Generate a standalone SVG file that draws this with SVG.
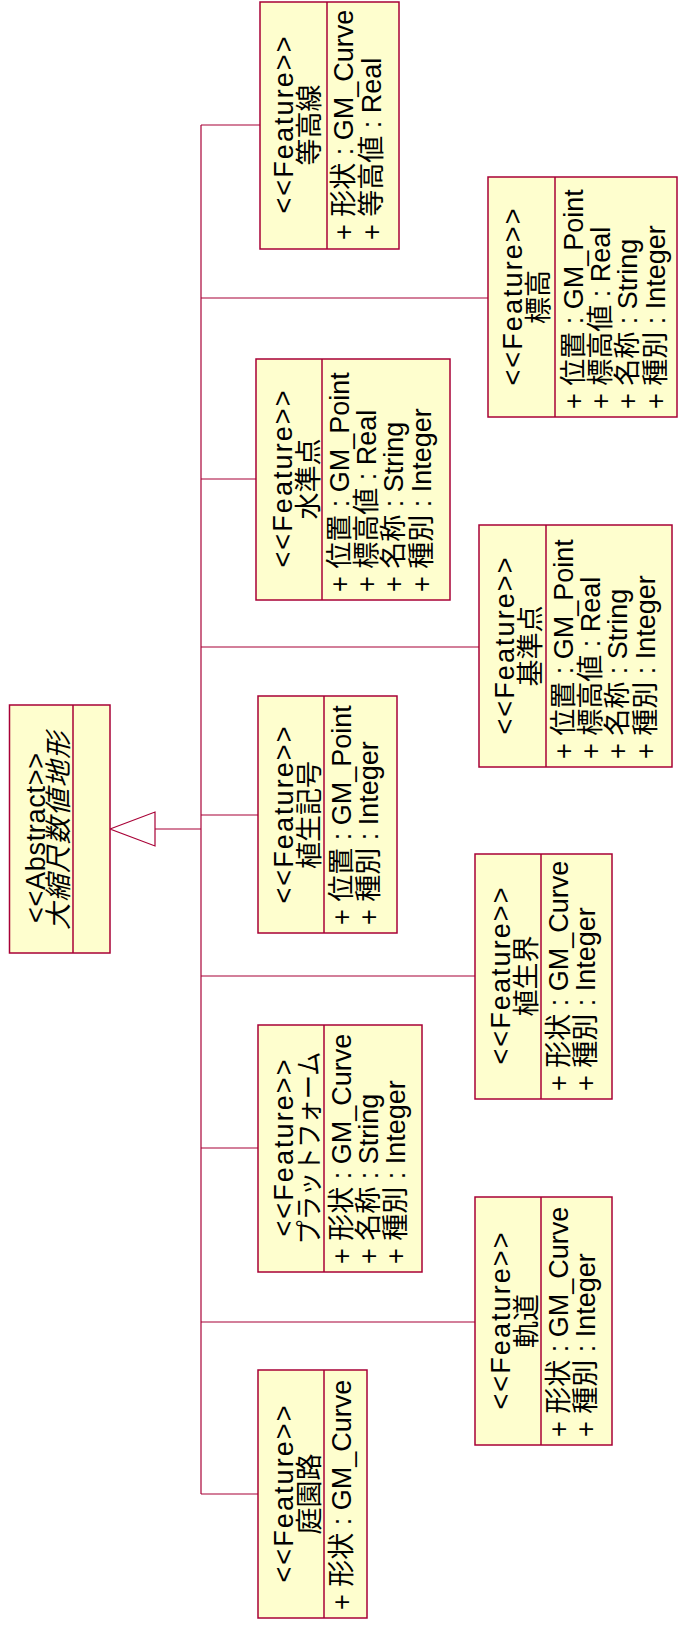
<svg xmlns="http://www.w3.org/2000/svg" width="678" height="1630" viewBox="0 0 678 1630">
<style>
.box{fill:#FEFECE;stroke:#A80036;stroke-width:1.5}
.div{stroke:#A80036;stroke-width:1.5}
.con{stroke:#A80036;stroke-width:1.2;fill:none}
text{font-family:"Liberation Sans","Noto Sans CJK JP",sans-serif;font-size:27px;fill:#000}
.c{text-anchor:middle}
.it{font-style:italic}
</style>
<rect width="678" height="1630" fill="#fff"/>
<g id="connectors">
<line class="con" x1="201" y1="125" x2="201" y2="1494"/>
<line class="con" x1="201" y1="125" x2="260" y2="125"/>
<line class="con" x1="201" y1="298" x2="488" y2="298"/>
<line class="con" x1="201" y1="479" x2="256" y2="479"/>
<line class="con" x1="201" y1="647" x2="479" y2="647"/>
<line class="con" x1="201" y1="815" x2="258" y2="815"/>
<line class="con" x1="201" y1="976" x2="475" y2="976"/>
<line class="con" x1="201" y1="1148" x2="258" y2="1148"/>
<line class="con" x1="201" y1="1322" x2="475" y2="1322"/>
<line class="con" x1="201" y1="1494" x2="258" y2="1494"/>
<line class="con" x1="155" y1="829" x2="201" y2="829"/>
<polygon class="con" points="110,829 155,812 155,846" style="fill:#fff"/>
</g>
<g id="abstract">
<rect class="box" x="9.5" y="705" width="100.5" height="248"/>
<line class="div" x1="73" y1="705" x2="73" y2="953"/>
<text class="c" transform="translate(45,838) rotate(-90)" textLength="170" lengthAdjust="spacing">&lt;&lt;Abstract&gt;&gt;</text>
<text class="c it" transform="translate(68,831) rotate(-90)" textLength="198" lengthAdjust="spacing">大縮尺数値地形</text>
</g>
<g id="toukousen">
<rect class="box" x="260" y="2" width="139" height="247"/>
<line class="div" x1="327" y1="2" x2="327" y2="249"/>
<text class="c" transform="translate(293,125) rotate(-90)" textLength="177" lengthAdjust="spacing">&lt;&lt;Feature&gt;&gt;</text>
<text class="c" transform="translate(319,125) rotate(-90)">等高線</text>
<text transform="translate(353,240) rotate(-90)">+ 形状 : GM_Curve</text>
<text transform="translate(381,240) rotate(-90)">+ 等高値 : Real</text>
</g>
<g id="hyoukou">
<rect class="box" x="488" y="177" width="189" height="240"/>
<line class="div" x1="555" y1="177" x2="555" y2="417"/>
<text class="c" transform="translate(522,297) rotate(-90)" textLength="177" lengthAdjust="spacing">&lt;&lt;Feature&gt;&gt;</text>
<text class="c" transform="translate(548,297) rotate(-90)">標高</text>
<text transform="translate(583,409) rotate(-90)">+ 位置 : GM_Point</text>
<text transform="translate(610,409) rotate(-90)">+ 標高値 : Real</text>
<text transform="translate(637,409) rotate(-90)">+ 名称 : String</text>
<text transform="translate(665,409) rotate(-90)">+ 種別 : Integer</text>
</g>
<g id="suijunten">
<rect class="box" x="256" y="359" width="194" height="241"/>
<line class="div" x1="322" y1="359" x2="322" y2="600"/>
<text class="c" transform="translate(292,479) rotate(-90)" textLength="177" lengthAdjust="spacing">&lt;&lt;Feature&gt;&gt;</text>
<text class="c" transform="translate(318,479) rotate(-90)">水準点</text>
<text transform="translate(349,592) rotate(-90)">+ 位置 : GM_Point</text>
<text transform="translate(376,592) rotate(-90)">+ 標高値 : Real</text>
<text transform="translate(403,592) rotate(-90)">+ 名称 : String</text>
<text transform="translate(431,592) rotate(-90)">+ 種別 : Integer</text>
</g>
<g id="kijunten">
<rect class="box" x="479" y="525" width="193" height="242"/>
<line class="div" x1="546" y1="525" x2="546" y2="767"/>
<text class="c" transform="translate(514,646) rotate(-90)" textLength="177" lengthAdjust="spacing">&lt;&lt;Feature&gt;&gt;</text>
<text class="c" transform="translate(540,646) rotate(-90)">基準点</text>
<text transform="translate(573,759) rotate(-90)">+ 位置 : GM_Point</text>
<text transform="translate(600,759) rotate(-90)">+ 標高値 : Real</text>
<text transform="translate(627,759) rotate(-90)">+ 名称 : String</text>
<text transform="translate(655,759) rotate(-90)">+ 種別 : Integer</text>
</g>
<g id="shokuseikigou">
<rect class="box" x="258" y="696" width="139" height="237"/>
<line class="div" x1="324" y1="696" x2="324" y2="933"/>
<text class="c" transform="translate(293,815) rotate(-90)" textLength="177" lengthAdjust="spacing">&lt;&lt;Feature&gt;&gt;</text>
<text class="c" transform="translate(319,815) rotate(-90)">植生記号</text>
<text transform="translate(351,925) rotate(-90)">+ 位置 : GM_Point</text>
<text transform="translate(378,925) rotate(-90)">+ 種別 : Integer</text>
</g>
<g id="shokuseikai">
<rect class="box" x="475" y="854" width="137" height="245"/>
<line class="div" x1="541" y1="854" x2="541" y2="1099"/>
<text class="c" transform="translate(510,976) rotate(-90)" textLength="177" lengthAdjust="spacing">&lt;&lt;Feature&gt;&gt;</text>
<text class="c" transform="translate(536,976) rotate(-90)">植生界</text>
<text transform="translate(568,1091) rotate(-90)">+ 形状 : GM_Curve</text>
<text transform="translate(595,1091) rotate(-90)">+ 種別 : Integer</text>
</g>
<g id="platform">
<rect class="box" x="258" y="1025" width="164" height="247"/>
<line class="div" x1="324" y1="1025" x2="324" y2="1272"/>
<text class="c" transform="translate(293,1148) rotate(-90)" textLength="177" lengthAdjust="spacing">&lt;&lt;Feature&gt;&gt;</text>
<text class="c" transform="translate(319,1148) rotate(-90)" textLength="193" lengthAdjust="spacingAndGlyphs">プラットフォーム</text>
<text transform="translate(351,1264) rotate(-90)">+ 形状 : GM_Curve</text>
<text transform="translate(378,1264) rotate(-90)">+ 名称 : String</text>
<text transform="translate(405,1264) rotate(-90)">+ 種別 : Integer</text>
</g>
<g id="kidou">
<rect class="box" x="475" y="1197" width="137" height="248"/>
<line class="div" x1="541" y1="1197" x2="541" y2="1445"/>
<text class="c" transform="translate(510,1321) rotate(-90)" textLength="177" lengthAdjust="spacing">&lt;&lt;Feature&gt;&gt;</text>
<text class="c" transform="translate(536,1321) rotate(-90)">軌道</text>
<text transform="translate(568,1437) rotate(-90)">+ 形状 : GM_Curve</text>
<text transform="translate(595,1437) rotate(-90)">+ 種別 : Integer</text>
</g>
<g id="teienro">
<rect class="box" x="258" y="1370" width="109" height="248"/>
<line class="div" x1="324" y1="1370" x2="324" y2="1618"/>
<text class="c" transform="translate(293,1494) rotate(-90)" textLength="177" lengthAdjust="spacing">&lt;&lt;Feature&gt;&gt;</text>
<text class="c" transform="translate(319,1494) rotate(-90)">庭園路</text>
<text transform="translate(351,1610) rotate(-90)">+ 形状 : GM_Curve</text>
</g>
</svg>
